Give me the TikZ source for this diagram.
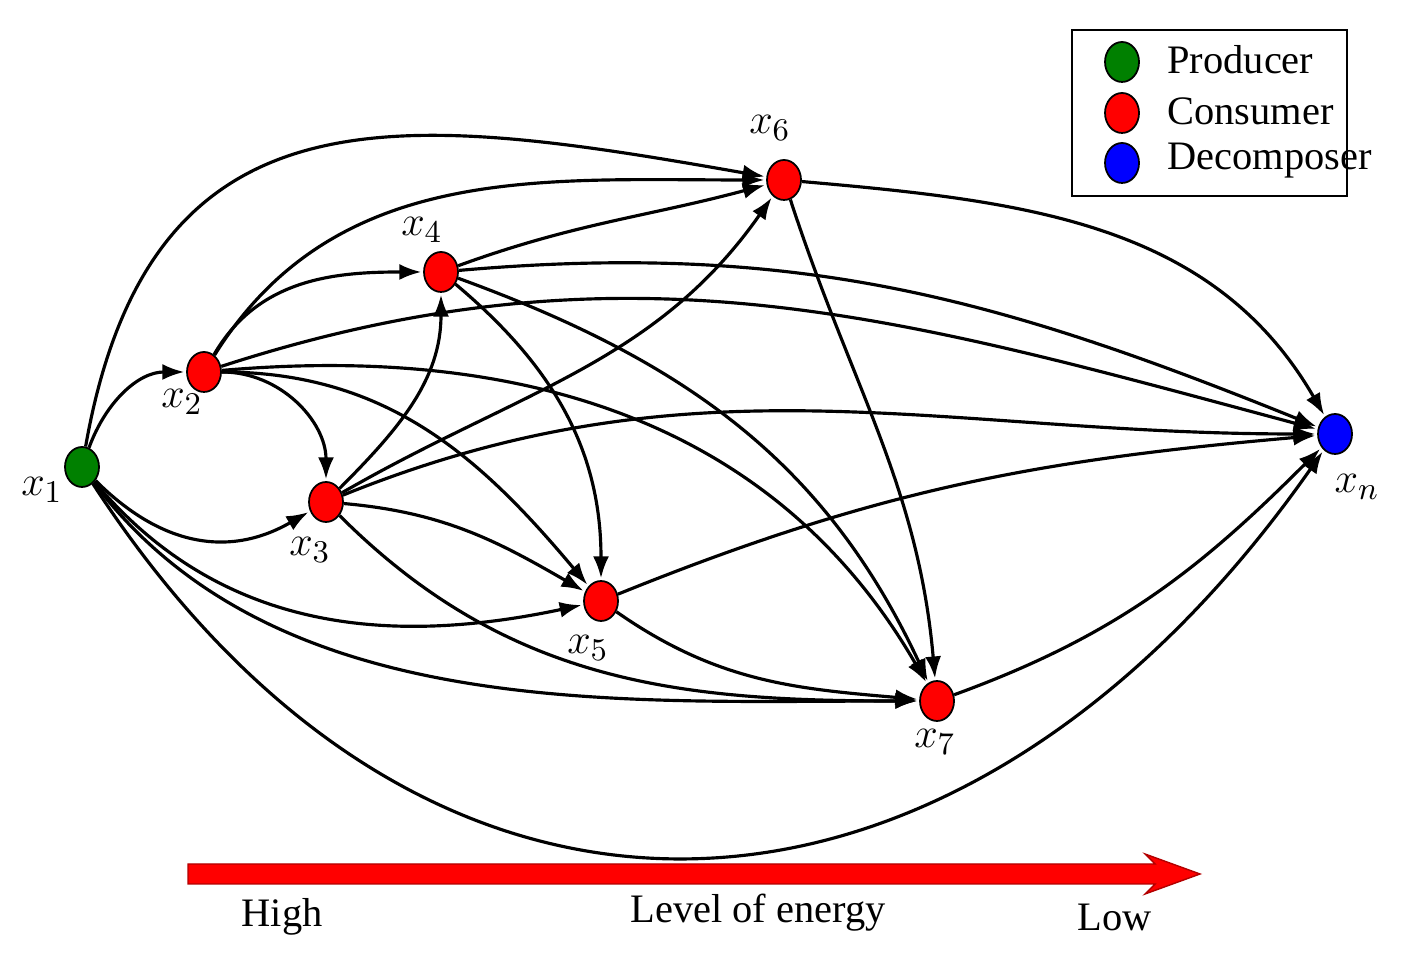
\documentclass[tikz,border=0pt]{standalone}
\usepackage{fontspec}
\setmainfont{Liberation Serif}
\usetikzlibrary{arrows.meta,shapes.geometric}
\begin{document}
\begin{tikzpicture}[
  v/.style={ellipse,draw=black,line width=0.5pt,minimum width=0.34cm,minimum height=0.4cm,inner sep=0pt},
  e/.style={-{Latex[length=2.2mm,width=1.6mm]},line width=0.9pt,shorten >=0.5pt},
  lab/.style={font=\fontsize{13}{13}\selectfont},
  leg/.style={font=\fontsize{11.5}{12}\selectfont,anchor=west}]
\useasboundingbox (0,0) rectangle (14.04,9.68);
\node[v,fill=green!50!black] (x1) at (0.82,5.01) {};
\node[v,fill=red] (x2) at (2.04,5.96) {};
\node[v,fill=red] (x3) at (3.26,4.66) {};
\node[v,fill=red] (x4) at (4.41,6.96) {};
\node[v,fill=red] (x5) at (6.01,3.67) {};
\node[v,fill=red] (x6) at (7.84,7.88) {};
\node[v,fill=red] (x7) at (9.37,2.67) {};
\node[v,fill=blue] (xn) at (13.35,5.34) {};
\node[lab] (l1) at (0.42,4.78) {$x_1$};
\node[lab] (l2) at (1.82,5.66) {$x_2$};
\node[lab] (l3) at (3.10,4.18) {$x_3$};
\node[lab] (l4) at (4.22,7.38) {$x_4$};
\node[lab] (l5) at (5.88,3.20) {$x_5$};
\node[lab] (l6) at (7.70,8.40) {$x_6$};
\node[lab] (l7) at (9.35,2.26) {$x_7$};
\node[lab] (ln) at (13.57,4.81) {$x_n$};
% x1
\draw[e] (x1) to[out=70,in=180] (x2);
\draw[e] (x1) to[out=80,in=170,looseness=1.3] (x6);
\draw[e] (x1) to[out=-45,in=210,looseness=1.1] (x3);
\draw[e] (x1) to[out=-50,in=192] (x5);
\draw[e] (x1) to[out=-53,in=180,looseness=0.9] (x7);
\draw[e] (x1) to[out=-57,in=235,looseness=1.3] (xn);
% x2
\draw[e] (x2) to[out=60,in=180] (x4);
\draw[e] (x2) to[out=58,in=180] (x6);
\draw[e] (x2) to[out=0,in=90] (x3);
\draw[e] (x2) to[out=18,in=165] (xn);
\draw[e] (x2) to[out=5,in=120] (x7);
\draw[e] (x2) to[out=0,in=130] (x5);
% x3
\draw[e] (x3) to[out=45,in=-90] (x4);
\draw[e] (x3) to[out=30,in=235] (x6);
\draw[e] (x3) to[out=22,in=180] (xn);
\draw[e] (x3) to[out=-5,in=150] (x5);
\draw[e] (x3) to[out=-45,in=180] (x7);
% x4
\draw[e] (x4) to[out=20,in=195] (x6);
\draw[e] (x4) to[out=5,in=158] (xn);
\draw[e] (x4) to[out=-20,in=115] (x7);
\draw[e] (x4) to[out=-40,in=90] (x5);
% x5
\draw[e] (x5) to[out=22,in=185] (xn);
\draw[e] (x5) to[out=-35,in=175] (x7);
% x6
\draw[e] (x6) to[out=-5,in=120] (xn);
\draw[e] (x6) to[out=-72,in=95] (x7);
% x7
\draw[e] (x7) to[out=20,in=225] (xn);
% legend
\draw[line width=0.8pt] (10.72,7.72) rectangle (13.47,9.38);
\node[v,fill=green!50!black] (c1) at (11.22,9.06) {};
\node[v,fill=red] (c2) at (11.22,8.55) {};
\node[v,fill=blue] (c3) at (11.22,8.05) {};
\node[leg] (t1) at (11.55,9.08) {Producer};
\node[leg] (t2) at (11.55,8.57) {Consumer};
\node[leg] (t3) at (11.55,8.07) {Decomposer};
% energy arrow
\draw[fill=red,draw=red!70!black,line width=0.4pt] (1.88,0.84) -- (11.55,0.84) -- (11.45,0.74) -- (12.0,0.94) -- (11.45,1.14) -- (11.55,1.04) -- (1.88,1.04) -- cycle;
\node[leg,anchor=center] (h) at (2.82,0.51) {High};
\node[leg,anchor=center] (m) at (7.58,0.55) {Level of energy};
\node[leg,anchor=center] (lo) at (11.15,0.51) {Low};
\end{tikzpicture}
\end{document}
